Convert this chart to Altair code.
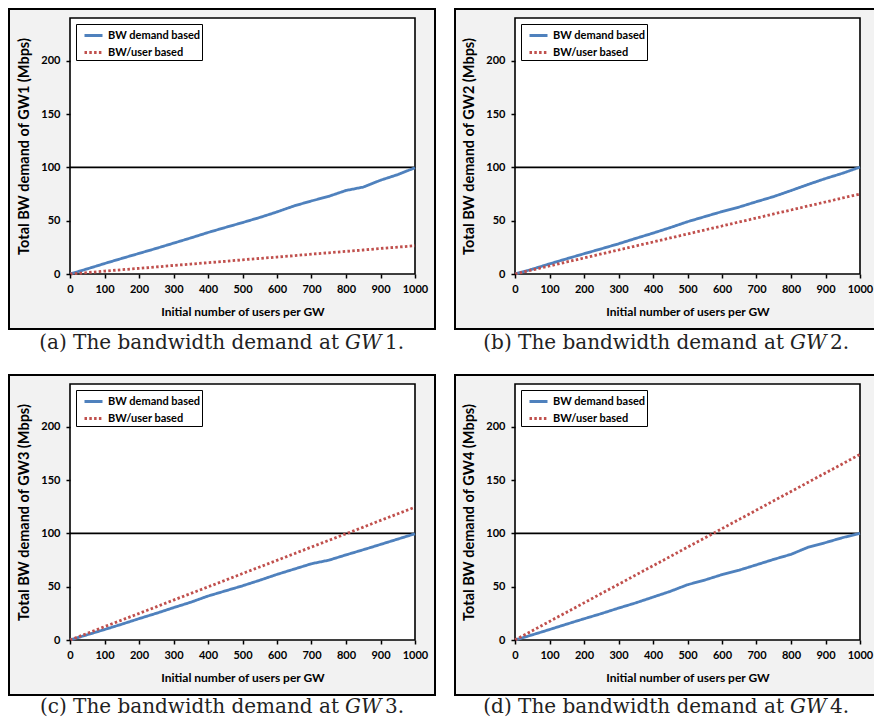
import altair as alt
import pandas as pd

# ---------------- data ----------------
users = [0, 50, 100, 150, 200, 250, 300, 350, 400, 450, 500,
         550, 600, 650, 700, 750, 800, 850, 900, 950, 1000]

series_names = ["BW demand based", "BW/user based"]

demand_gw1 = [0, 4.8, 9.8, 14.6, 19.3, 24.0, 28.9, 33.8, 38.9, 43.6, 48.2,
              53.0, 58.2, 63.9, 68.5, 72.8, 78.3, 81.5, 87.9, 93.2, 99.6]
peruser_gw1 = [0, 1.3, 2.7, 4.0, 5.3, 6.6, 8.0, 9.3, 10.6, 11.9, 13.3,
               14.6, 15.9, 17.2, 18.6, 19.9, 21.2, 22.5, 23.9, 25.2, 26.5]

demand_gw2 = [0, 4.5, 9.5, 14.3, 19.0, 23.6, 28.3, 33.4, 38.3, 43.5, 49.0,
              53.8, 58.5, 62.8, 67.8, 72.6, 78.2, 84.0, 89.5, 94.5, 100.2]
peruser_gw2 = [0, 3.8, 7.5, 11.3, 15.0, 18.8, 22.5, 26.3, 30.0, 33.8, 37.5,
               41.3, 45.0, 48.8, 52.5, 56.3, 60.0, 63.8, 67.5, 71.3, 75.0]

demand_gw3 = [0, 4.9, 9.8, 14.8, 20.0, 25.0, 30.3, 35.4, 41.2, 46.0, 50.8,
              56.0, 61.5, 66.5, 71.5, 74.8, 79.8, 84.6, 89.6, 94.6, 99.6]
peruser_gw3 = [0, 6.2, 12.5, 18.7, 24.9, 31.1, 37.4, 43.6, 49.8, 56.0, 62.3,
               68.5, 74.7, 80.9, 87.2, 93.4, 99.6, 105.8, 112.1, 118.3, 124.5]

demand_gw4 = [0, 4.8, 9.8, 14.9, 19.9, 24.7, 29.9, 34.8, 40.2, 45.6, 51.8,
              56.2, 61.3, 65.5, 70.5, 75.6, 80.3, 87.0, 91.3, 96.0, 100.0]
peruser_gw4 = [0, 8.7, 17.4, 26.1, 34.8, 43.5, 52.2, 60.9, 69.6, 78.3, 87.0,
               95.7, 104.4, 113.1, 121.8, 130.5, 139.2, 147.9, 156.6, 165.3, 174.0]

capacity_level = 100
x_ticks = [0, 100, 200, 300, 400, 500, 600, 700, 800, 900, 1000]
y_ticks = [0, 50, 100, 150, 200]

caption_letters = ["(a)", "(b)", "(c)", "(d)"]
gw_numbers = ["1", "2", "3", "4"]

# ---------------- style ----------------
W, H = 345, 256
BLUE = "#4F81BD"
RED = "#C0504D"
GRAY = "#F2F2F2"
FONT = "Lato"
SERIF = "DejaVu Serif"
CAP_SIZE = 20
LABEL_EXPR = "datum.label + '  '"


def panel(idx, demand, peruser, left_off, right_off, cap_off):
    df = pd.DataFrame({
        "users": users * 2,
        "bw": demand + peruser,
        "series": [series_names[0]] * len(users) + [series_names[1]] * len(users),
    })
    one = pd.DataFrame({"k": [0]})

    gray = alt.Chart(one).mark_rect(fill=GRAY, stroke="black", strokeWidth=2).encode(
        x=alt.value(-left_off), x2=alt.value(W + right_off),
        y=alt.value(-9), y2=alt.value(H + 55))
    white = alt.Chart(one).mark_rect(fill="white", stroke="black", strokeWidth=1.6).encode(
        x=alt.value(0), x2=alt.value(W), y=alt.value(0), y2=alt.value(H))

    xs = alt.Scale(domain=[0, 1000], nice=False)
    ys = alt.Scale(domain=[0, 240], nice=False)

    lines = alt.Chart(df).mark_line(strokeWidth=2.8).encode(
        x=alt.X("users:Q", scale=xs,
                axis=alt.Axis(values=x_ticks, title="Initial number of users per GW",
                              format="d", labelOverlap=False, labelFlush=False,
                              zindex=1, labelPadding=5, titleFontSize=12, titlePadding=12)),
        y=alt.Y("bw:Q", scale=ys,
                axis=alt.Axis(values=y_ticks, zindex=1, labelPadding=6,
                              format="d", labelOverlap=False, labelFlush=False,
                              titleFontSize=14.5, titlePadding=9,
                              title=f"Total BW demand of GW{gw_numbers[idx]} (Mbps)")),
        color=alt.Color("series:N", scale=alt.Scale(domain=series_names, range=[BLUE, RED]),
                        legend=alt.Legend(title=None, labelExpr=LABEL_EXPR)),
        strokeDash=alt.StrokeDash("series:N",
                                  scale=alt.Scale(domain=series_names, range=[[1, 0], [2.5, 2.3]]),
                                  legend=alt.Legend(title=None, labelExpr=LABEL_EXPR)),
        order=alt.Order("users:Q"),
    )

    rule = alt.Chart(one).mark_rule(color="black", strokeWidth=1.6).encode(
        y=alt.datum(capacity_level))

    cap_y = H + cap_off
    t1 = alt.Chart(one).mark_text(text=f"{caption_letters[idx]} The bandwidth demand at",
                                  font=SERIF, fontSize=CAP_SIZE, align="right", baseline="middle",
                                  color="#222222").encode(x=alt.value(269), y=alt.value(cap_y))
    t2 = alt.Chart(one).mark_text(text="GW", font=SERIF, fontSize=CAP_SIZE, fontStyle="italic",
                                  align="left", baseline="middle",
                                  color="#222222").encode(x=alt.value(275), y=alt.value(cap_y))
    t3 = alt.Chart(one).mark_text(text=f"{gw_numbers[idx]}.", font=SERIF, fontSize=CAP_SIZE,
                                  align="left", baseline="middle",
                                  color="#222222").encode(x=alt.value(315), y=alt.value(cap_y))

    return alt.layer(gray, white, rule, lines, t1, t2, t3).properties(width=W, height=H)


pa = panel(0, demand_gw1, peruser_gw1, 61, 20, 69)
pb = panel(1, demand_gw2, peruser_gw2, 60, 20, 69)
pc = panel(2, demand_gw3, peruser_gw3, 61, 20, 67)
pd_ = panel(3, demand_gw4, peruser_gw4, 60, 20, 67)

indep = dict(color="independent", strokeDash="independent")

# right-hand panels run off the page edge in the original figure: trim the
# right side of the drawing so that the page keeps its 882 px width
chart = alt.concat(
    pa, pb, pc, pd_,
    columns=2,
    spacing={"row": 110, "column": 100},
    bounds="flush",
).resolve_scale(**indep).resolve_legend(**indep).properties(
    padding={"left": 0, "top": 0, "right": -7, "bottom": 0},
    background="white",
).configure_view(stroke=None).configure_axis(
    domain=False,
    grid=False,
    ticks=True,
    tickColor="black",
    tickSize=4,
    tickWidth=1.5,
    labelFont=FONT,
    labelFontWeight="bold",
    labelFontSize=11,
    labelColor="black",
    titleFont=FONT,
    titleFontWeight="bold",
    titleColor="black",
).configure_legend(
    orient="top-left",
    offset=6,
    padding=1,
    fillColor="white",
    strokeColor="black",
    symbolType="stroke",
    symbolSize=324,
    symbolOffset=6,
    symbolStrokeWidth=3,
    labelFont=FONT,
    labelFontWeight="bold",
    labelFontSize=11,
    labelColor="black",
    labelOffset=4,
    rowPadding=0,
)

chart.save("out.html", embed_options={"renderer": "svg", "actions": False})
